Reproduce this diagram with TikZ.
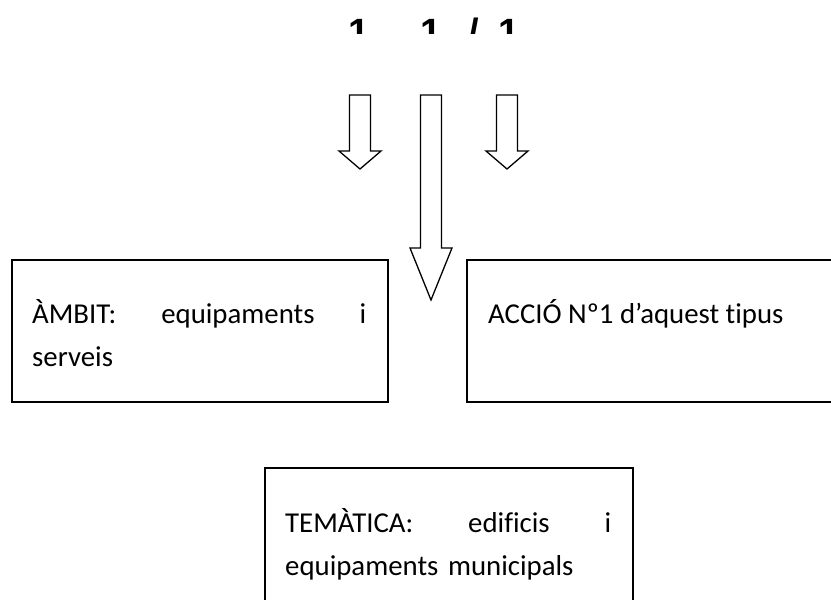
\documentclass[tikz,border=0pt]{standalone}
\usepackage{fontspec}
\setmainfont{Carlito}[Ligatures=NoCommon]
\newfontfamily\numfont{Liberation Sans}
\usetikzlibrary{positioning}

\begin{document}
\begin{tikzpicture}[x=1pt,y=-1pt,
  frame/.style={draw,line width=1.6pt,inner sep=0pt,anchor=north west},
  boxtext/.style={inner sep=0pt,anchor=base west,align=left,font=\fontsize{28.8}{43}\selectfont},
  digit/.style={inner sep=0pt,anchor=base,font=\numfont\bfseries\fontsize{38}{38}\selectfont},
  blockarr/.style={draw,line width=1.3pt,line join=miter,fill=white}
]
\clip (0,0) rectangle (831,600);
% numbers at the top, cut by the page edge
\begin{scope}
\clip (0,0) rectangle (831,33);
\node[digit] (n1) at (359,45) {1};
\node[digit] (n2) at (431,45) {1};
\node[digit] (sl) at (474,45) {/};
\node[digit] (n3) at (509,45) {1};
\end{scope}
% block arrows
\foreach \cx/\neck/\tip in {360/151/169, 431/248/300, 507/151/169}
  \draw[blockarr] (\cx-10.5,95) -- (\cx+10.5,95) -- (\cx+10.5,\neck) -- (\cx+21,\neck)
    -- (\cx,\tip) -- (\cx-21,\neck) -- (\cx-10.5,\neck) -- cycle;
% boxes
\node[frame,minimum width=376pt,minimum height=142pt] (ambit) at (11,259) {};
\node[boxtext,text width=334pt] (ambittxt) at (32,323) {ÀMBIT:\hfill equipaments\hfill i\\serveis};
\node[frame,minimum width=430pt,minimum height=142pt] (accio) at (466,259) {};
\node[boxtext] (acciotxt) at (488,323) {ACCIÓ Nº1 d’aquest tipus};
\node[frame,minimum width=368pt,minimum height=200pt] (tema) at (264,467) {};
\node[boxtext,text width=326pt] (tematxt) at (285,532) {TEMÀTICA:\hfill edificis\hfill i\\equipaments municipals};
\end{tikzpicture}
\end{document}
